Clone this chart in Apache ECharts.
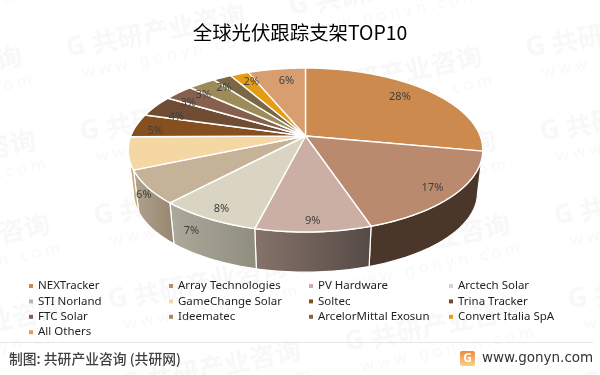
<!DOCTYPE html>
<html><head><meta charset="utf-8">
<style>html,body{margin:0;padding:0;background:#fff}#c{width:600px;height:375px}</style>
<script src="https://cdn.jsdelivr.net/npm/echarts@6/dist/echarts.min.js"></script>
</head><body><div id="c"></div>
<script>
const categories = ['NEXTracker','Array Technologies','PV Hardware','Arctech Solar','STI Norland','GameChange Solar','Soltec','Trina Tracker','FTC Solar','Ideematec','ArcelorMittal Exosun','Convert Italia SpA','All Others'];
const values = [28,17,9,8,6.6,6.4,4.6,4.2,3.2,3,2,2,6.2];
const topColors = ['#cc8a4e','#b98a6d','#ccafa4','#d9d5c2','#c4b299','#f4d7a2','#854f20','#6f4c33','#875f4d','#9e8b5a','#7c6745','#e69c12','#d89e70'];
const wallColors = [['#4b3729','#4b3729'],['#4b3729','#4b3729'],['#564a45','#86736b'],['#8f8d7e','#adaa9c'],['#96856f','#b0a48f'],['#c8ac78','#c8ac78'],null,null,null,null,null,null,null];
const labelShift = [[7,-6],[27,12],[2,22],[-19,18],[-7,60],[-39,47],[-31,2],[-22,2],[-26,-2],[-27,-3],[-21,-6],[-6,-9],[2,-6]];
const legendColumns = [[0,4,8,12],[1,5,9],[2,6,10],[3,7,11]];
const legendLeft = [29,169,309,449];

// pie geometry (a projected circle)
const CX=305.5, CY=136, K=0.171, AX=174.7, BY=79.6, DEPTH=43, BOTTOM=0.97;
function project(f,deg,bottom){
  const t=deg*Math.PI/180, u=f*Math.sin(t), v=-f*Math.cos(t), w=1-K*v;
  const s=bottom?BOTTOM:1, dz=bottom?DEPTH:0;
  return [CX+s*AX*u/w, CY+dz+s*BY*v/w];
}
function arc(a,b,bottom){
  const n=Math.max(2,Math.ceil((b-a)/1.5)), pts=[];
  for(let i=0;i<=n;i++) pts.push(project(1,a+(b-a)*i/n,bottom));
  return pts;
}
const total=values.reduce((p,c)=>p+c,0);
const starts=[]; values.reduce((p,c,i)=>{starts[i]=p;return p+c;},0);
const WALL_FROM=100, WALL_TO=260;

function renderSlice(idx){
  return function(params,api){
    const a=starts[idx]/total*360, b=(starts[idx]+api.value(0))/total*360, mid=(a+b)/2;
    const children=[];
    const wa=Math.max(a,WALL_FROM), wb=Math.min(b,WALL_TO);
    if(wb>wa && wallColors[idx]){
      const top=arc(wa,wb,false), bot=arc(wa,wb,true).reverse();
      children.push({type:'polygon',z2:1,shape:{points:top.concat(bot)},style:{
        fill:new echarts.graphic.LinearGradient(0,0,1,0,[{offset:0,color:wallColors[idx][1]},{offset:1,color:wallColors[idx][0]}]),
        stroke:'#fff',lineWidth:1.2,lineJoin:'round'}});
    }
    const rim=arc(a,b,false);
    children.push({type:'polygon',z2:5,shape:{points:[[CX,CY]].concat(rim)},style:{fill:topColors[idx],stroke:'#fff',lineWidth:1.4,lineJoin:'round'}});
    const p=project(0.7,mid,false), sh=labelShift[idx];
    children.push({type:'text',z2:10,style:{x:p[0]+sh[0],y:p[1]+sh[1],text:Math.round(api.value(0))+'%',fill:'#404040',font:'11px "Noto Sans"',align:'center',verticalAlign:'middle'}});
    return {type:'group',children};
  };
}
const graphics=[];
// faint tiled watermark
for(let i=-2;i<=6;i++){
  for(let j=-6;j<=3;j++){
    const gx=77+i*237+j*223, gy=47+i*42-j*42;
    if(gx<-200||gx>620||gy<-30||gy>400) continue;
    graphics.push({type:'group',x:gx,y:gy,rotation:0.2,silent:true,z:-1,children:[
      {type:'text',style:{x:-11,y:0,text:'G',fill:'#f8f8f8',font:'bold 27px "Noto Sans"',verticalAlign:'middle'}},
      {type:'text',style:{x:15,y:0,text:'共研产业咨询',fill:'#f8f8f8',font:'bold 26px "Noto Sans CJK SC"',verticalAlign:'middle'}},
      {type:'text',style:{x:0,y:27,text:'w w w . g o n y n . c o m',fill:'#f8f8f8',font:'16px "Noto Sans"',verticalAlign:'middle'}}
    ]});
  }
}
graphics.push({type:'rect',shape:{x:0,y:342,width:593,height:1},style:{fill:'#e6e6e6'},silent:true});
graphics.push({type:'text',style:{x:9,y:359,text:'制图: 共研产业咨询 (共研网)',fill:'#404040',font:'500 13.8px "Noto Sans CJK SC"',verticalAlign:'middle'}});
graphics.push({type:'text',style:{x:482,y:358,text:'www.gonyn.com',fill:'#333',font:'13.5px "DejaVu Sans"',verticalAlign:'middle'}});
graphics.push({type:'rect',shape:{x:460,y:351,width:15,height:15,r:2},style:{fill:new echarts.graphic.LinearGradient(0,0,0,1,[{offset:0,color:'#f08a3c'},{offset:1,color:'#fbd08a'}])}});
graphics.push({type:'text',style:{x:467.5,y:358.5,text:'G',fill:'#fff',font:'bold 12px "Noto Sans"',align:'center',verticalAlign:'middle'}});

const series=categories.map((name,i)=>({
  type:'custom',name,coordinateSystem:'none',itemStyle:{color:topColors[i]},
  data:[[values[i]]],encode:{value:0},silent:true,animation:false,renderItem:renderSlice(i)
}));
const legends=legendColumns.map((col,i)=>({
  orient:'vertical',left:legendLeft[i],top:280,padding:0,itemWidth:4,itemHeight:4,itemGap:3.4,icon:'rect',
  data:col.map(k=>categories[k]),selectedMode:false,
  textStyle:{fontFamily:'Noto Sans',fontSize:11.5,color:'#1f1f1f'}
}));
const chart=echarts.init(document.getElementById('c'),null,{renderer:'canvas'});
chart.setOption({
  animation:false,backgroundColor:'#fff',
  title:{text:'全球光伏跟踪支架TOP10',left:'center',top:18,textStyle:{fontFamily:'Noto Sans CJK SC',fontWeight:'normal',fontSize:19.4,color:'#000'}},
  legend:legends,graphic:graphics,series
});
</script></body></html>
